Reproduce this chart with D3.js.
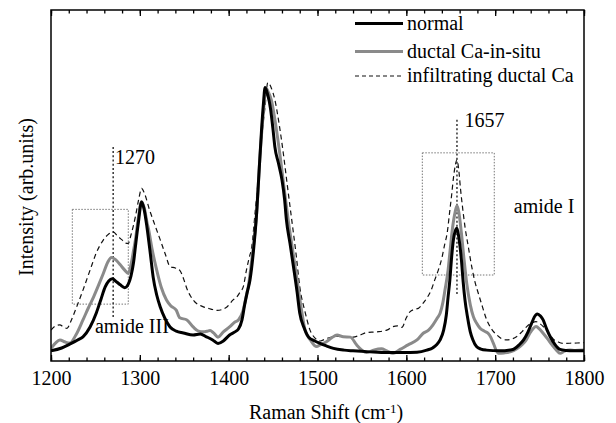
<!DOCTYPE html>
<html><head><meta charset="utf-8">
<script src="https://cdn.jsdelivr.net/npm/d3@7"></script>
<style>
body{margin:0;background:#fff;}
text{font-family:'Liberation Serif','Times New Roman','DejaVu Serif',serif !important;}
</style></head>
<body><svg id="c" width="616" height="423"></svg>
<script>
// ---- data (Raman shift cm^-1, intensity arb. units 0-100) ----
const normal = [[1200,2.9],[1212,3.7],[1221,4.8],[1230,6.0],[1236,6.9],[1244,9.7],[1251,13.7],[1256,17.4],[1261,21.1],[1265,22.8],[1269,23.4],[1274,22.5],[1278,21.7],[1283,20.9],[1287,21.9],[1290,24.2],[1293,28.2],[1295,32.5],[1298,38.7],[1302,45.3],[1305,43.0],[1308,38.2],[1312,30.2],[1315,23.9],[1319,18.8],[1323,15.4],[1328,12.3],[1334,9.7],[1341,8.5],[1349,8.0],[1360,7.4],[1368,7.7],[1375,6.9],[1382,6.0],[1388,5.0],[1394,5.7],[1401,7.4],[1407,8.3],[1411,9.1],[1415,11.7],[1418,16.0],[1421,19.7],[1424,23.1],[1428,31.6],[1431.5,42.2],[1434,53.0],[1437,65.8],[1439,72.9],[1441,77.9],[1444,75.8],[1447,72.1],[1450,65.8],[1452,61.0],[1456,56.4],[1460,51.6],[1463,45.9],[1465,40.2],[1469,33.6],[1473,26.8],[1477,19.7],[1480,13.7],[1485,9.4],[1490,6.8],[1497,5.7],[1503,5.0],[1510,4.3],[1518,3.6],[1530,3.1],[1540,2.9],[1559,2.6],[1578,2.4],[1597,2.4],[1612,2.5],[1623,3.1],[1630,3.8],[1634,4.6],[1638,6.0],[1642,8.8],[1645,13.1],[1647,18.2],[1649,23.1],[1651,29.6],[1653,34.5],[1655,37.0],[1657,37.8],[1659,35.3],[1662,28.8],[1664,22.5],[1666,17.4],[1669,12.3],[1672,8.3],[1675,6.0],[1679,4.1],[1684,3.4],[1690,3.1],[1705,2.9],[1720,3.3],[1727,4.6],[1732,6.0],[1737,8.3],[1741,10.7],[1744,12.5],[1747.5,13.4],[1751,12.8],[1754,11.7],[1758,9.1],[1762,6.9],[1767,4.8],[1773,3.3],[1780,3.0],[1788,2.9],[1800,2.9]];

const ductalInSitu = [[1200,3.6],[1205,5.1],[1210,6.0],[1216,5.4],[1221,5.1],[1228,7.4],[1236,11.7],[1242,15.1],[1248,18.3],[1254,21.9],[1259,25.0],[1264,28.2],[1268,29.5],[1273,28.8],[1278,27.4],[1283,25.9],[1287,25.0],[1290,27.4],[1293,31.6],[1295,34.5],[1298,40.2],[1302,45.4],[1305,43.6],[1308,39.6],[1310,37.3],[1314,31.6],[1319,25.9],[1324,21.1],[1330,17.4],[1335,15.7],[1341,14.5],[1345,12.3],[1353,11.7],[1360,9.7],[1366,8.5],[1371,8.3],[1376,8.5],[1379,8.7],[1383,8.0],[1388,6.8],[1394,8.3],[1401,9.7],[1407,11.1],[1411,11.7],[1416,14.2],[1420,18.8],[1422,21.1],[1426,28.8],[1431.5,42.1],[1435,57.3],[1439,70.6],[1442,77.7],[1445,76.4],[1448,74.4],[1453,67.2],[1458,58.2],[1462,50.1],[1467,40.2],[1472,31.6],[1477,23.1],[1482,14.5],[1486,8.8],[1492,6.0],[1499,4.1],[1503,4.6],[1510,5.5],[1516,6.6],[1522,7.4],[1529,6.9],[1537,6.8],[1544,4.6],[1550,3.1],[1555,2.4],[1563,3.1],[1572,3.5],[1578,2.9],[1585,2.2],[1593,3.3],[1602,4.6],[1612,6.0],[1619,7.9],[1625,8.8],[1630,10.3],[1635,12.3],[1638,13.6],[1641,16.5],[1643.5,20.2],[1647,25.9],[1649,30.8],[1652,37.9],[1655,42.5],[1657,44.2],[1659,42.5],[1662,36.4],[1665,28.8],[1668,22.1],[1672,16.0],[1675.5,12.6],[1679,10.8],[1683,9.3],[1688,8.5],[1692,7.9],[1695,6.8],[1698,5.0],[1703.6,2.2],[1710,2.3],[1717,2.6],[1724,3.4],[1730,4.6],[1735,6.0],[1739,7.9],[1743,9.3],[1746,9.8],[1750,9.1],[1754,7.9],[1759,6.3],[1764,4.6],[1769,3.1],[1773,2.2],[1778,2.8],[1784,3.1],[1790,3.0],[1800,3.1]];

const infiltratingDuctal = [[1200,8.8],[1205,10.0],[1210,10.3],[1214,9.7],[1218,9.3],[1223,11.7],[1229,15.5],[1236,20.2],[1244,25.9],[1251,30.8],[1259,34.5],[1265,36.2],[1270,36.8],[1275,35.6],[1280,34.5],[1284,33.6],[1287,33.5],[1290,35.9],[1295,41.1],[1299,46.4],[1302,49.2],[1305,47.9],[1311,43.0],[1317,38.7],[1323,34.5],[1329,30.2],[1334,26.9],[1340,26.5],[1345,25.8],[1349,23.6],[1353,20.6],[1357,18.5],[1362,16.8],[1371,15.5],[1380,14.8],[1387,14.4],[1393,14.7],[1398,15.4],[1405,17.4],[1409,18.2],[1413,19.7],[1416.5,21.2],[1420,25.9],[1423,29.3],[1426,32.6],[1430,43.0],[1435,56.3],[1438,65.8],[1441,72.5],[1444,79.3],[1448,77.8],[1452,74.4],[1457,67.2],[1461.5,59.2],[1466,50.1],[1471,40.2],[1476,30.2],[1480,21.2],[1486,14.0],[1491.6,8.8],[1497,6.6],[1503,5.7],[1510,6.4],[1516,6.8],[1522,7.1],[1530,6.8],[1540,6.8],[1548,7.4],[1555,8.1],[1567,8.3],[1578,8.8],[1585,9.8],[1590,10.0],[1595,9.6],[1600,12.3],[1604,14.0],[1609,14.7],[1613.5,15.0],[1618,16.2],[1623,17.9],[1628,20.2],[1632,23.1],[1636,25.9],[1640,29.3],[1643,33.0],[1646,36.5],[1649,43.0],[1651,47.3],[1653,52.1],[1655,55.6],[1657,57.3],[1659,54.5],[1661,49.0],[1663,44.4],[1666,38.3],[1670,32.2],[1673.6,26.9],[1677,22.8],[1681,19.3],[1685,16.0],[1690.5,11.7],[1696,9.1],[1702,7.4],[1707,6.4],[1713,6.0],[1719,6.3],[1724,6.9],[1730,8.3],[1735.5,9.8],[1741,10.8],[1746,11.2],[1751,10.5],[1756,9.3],[1761,7.7],[1765.5,6.2],[1771,5.4],[1777,5.0],[1788,5.1],[1800,5.2]];

const seriesNames = ["normal","ductal Ca-in-situ","infiltrating ductal Ca"];
const xMajorTicks = [1200,1300,1400,1500,1600,1700,1800];
const xMinorTicks = d3.range(1200,1801,20);
// annotation data: [x0, x1, yTop, yBottom]
const boxAmideIII = [1224,1287,43.2,16.2];
const boxAmideI = [1618,1699,59.3,24.5];
// marker lines: [x, yTop, yBottom]
const markers = [[1270,61.0,12.5],[1657,68.7,18.5]];
const markerLabels = [["1270",1272,58.1],["1657",1665.5,68.8]];
const bandLabels = [["amide III",1249.5,9.4],["amide I",1721,43.6]];

// ---- layout ----
const FONT = "'Liberation Serif','Times New Roman','DejaVu Serif',serif";
const W=616,H=423, L=51, R=584, T=10, B=361;
const svg = d3.select("#c").attr("font-family",FONT);
const x = d3.scaleLinear().domain([1200,1800]).range([L,R]);
const y = d3.scaleLinear().domain([0,100]).range([B,T]);

svg.append("defs").append("clipPath").attr("id","clip")
  .append("rect").attr("x",L).attr("y",T).attr("width",R-L).attr("height",B-T);

const line = d3.line().x(d=>x(d[0])).y(d=>y(d[1])).curve(d3.curveMonotoneX);
const g = svg.append("g").attr("clip-path","url(#clip)");

[boxAmideIII, boxAmideI].forEach(b=>{
  g.append("rect").attr("x",x(b[0])).attr("y",y(b[2]))
   .attr("width",x(b[1])-x(b[0])).attr("height",y(b[3])-y(b[2]))
   .attr("fill","none").attr("stroke","#777").attr("stroke-width",1)
   .attr("stroke-dasharray","1.5,1.5");
});
markers.forEach(m=>{
  g.append("line").attr("x1",x(m[0])).attr("x2",x(m[0]))
   .attr("y1",y(m[1])).attr("y2",y(m[2]))
   .attr("stroke","#333").attr("stroke-width",1.5).attr("stroke-dasharray","2,2.2");
});

g.append("path").datum(infiltratingDuctal).attr("d",line)
 .attr("fill","none").attr("stroke","#111").attr("stroke-width",1.2).attr("stroke-dasharray","5,3.5");
g.append("path").datum(ductalInSitu).attr("d",line)
 .attr("fill","none").attr("stroke","#8a8a8a").attr("stroke-width",3);
g.append("path").datum(normal).attr("d",line)
 .attr("fill","none").attr("stroke","#000").attr("stroke-width",3);

function txt(sel){ return sel.attr("font-family",FONT).attr("font-size",20).attr("fill","#000"); }

markerLabels.forEach(l=>{
  txt(svg.append("text")).attr("x",x(l[1])).attr("y",y(l[2])+7).text(l[0]);
});
bandLabels.forEach(l=>{
  txt(svg.append("text")).attr("x",x(l[1])).attr("y",y(l[2])+5).text(l[0]);
});

svg.append("g").attr("transform",`translate(0,${B})`)
  .call(d3.axisBottom(x).tickValues(xMinorTicks).tickSize(-3.5).tickFormat(""));
const axB2 = svg.append("g").attr("transform",`translate(0,${B})`)
  .call(d3.axisBottom(x).tickValues(xMajorTicks).tickSize(-6).tickPadding(10).tickFormat(d3.format("d")));
svg.append("g").attr("transform",`translate(0,${T})`)
  .call(d3.axisTop(x).tickValues(xMinorTicks).tickSize(-3.5).tickFormat(""));
svg.append("g").attr("transform",`translate(0,${T})`)
  .call(d3.axisTop(x).tickValues(xMajorTicks).tickSize(-6).tickFormat(""));
svg.selectAll(".domain").remove();
svg.selectAll("g").filter(function(){return this.hasAttribute("font-family");}).attr("font-family",FONT);
svg.selectAll(".tick line").attr("stroke","#000").attr("stroke-width",1.3);
txt(axB2.selectAll("text"));

svg.append("rect").attr("x",L).attr("y",T).attr("width",R-L).attr("height",B-T)
  .attr("fill","none").attr("stroke","#000").attr("stroke-width",1.5);

const xt = txt(svg.append("text")).attr("x",326).attr("y",419).attr("text-anchor","middle");
xt.append("tspan").text("Raman Shift (cm");
xt.append("tspan").attr("dy",-6).attr("font-size",13).text("-1");
xt.append("tspan").attr("dy",6).text(")");
txt(svg.append("text")).attr("transform","translate(33,197) rotate(-90)").attr("text-anchor","middle")
  .text("Intensity (arb.units)");

const legStyles = [
  {stroke:"#000",w:3,dash:null,y:23.5},
  {stroke:"#8a8a8a",w:3,dash:null,y:51.5},
  {stroke:"#111",w:1.2,dash:"4,3",y:76}
];
seriesNames.forEach((n,i)=>{
  const s = legStyles[i];
  svg.append("line").attr("x1",355).attr("x2",403).attr("y1",s.y).attr("y2",s.y)
    .attr("stroke",s.stroke).attr("stroke-width",s.w).attr("stroke-dasharray",s.dash);
  txt(svg.append("text")).attr("x",407).attr("y",s.y+6).text(n);
});
</script></body></html>
